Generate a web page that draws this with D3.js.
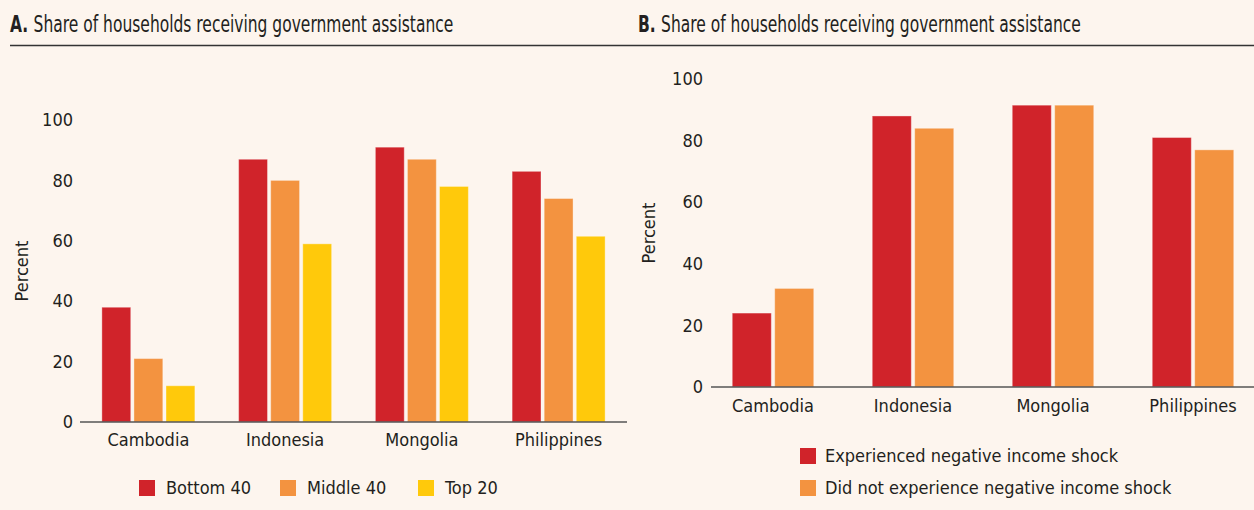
<!DOCTYPE html>
<html>
<head>
<meta charset="utf-8">
<script src="https://cdn.jsdelivr.net/npm/d3@7/dist/d3.min.js"></script>
<style>
  html, body { margin: 0; padding: 0; background: #fdf5ee; }
  svg { display: block; }
  text { font-family: "Liberation Sans Narrow", "DejaVu Sans Condensed", "Roboto", sans-serif; fill: #231f20; }
</style>
</head>
<body>
<svg id="chart" width="1254" height="510"></svg>
<script>
// Countries shown in both panels
const countries = ["Cambodia", "Indonesia", "Mongolia", "Philippines"];

// Panel A: share by income group (percent)
const groupsA = ["Bottom 40", "Middle 40", "Top 20"];
const bottom40 = [38, 87, 91, 83];
const middle40 = [21, 80, 87, 74];
const top20 = [12, 59, 78, 61.5];

// Panel B: share by income-shock status (percent)
const groupsB = ["Experienced negative income shock", "Did not experience negative income shock"];
const shock = [24, 88, 91.5, 81];
const noShock = [32, 84, 91.5, 77];

const yTicks = [0, 20, 40, 60, 80, 100];

const colors = { red: "#d0232a", orange: "#f39340", yellow: "#ffc90b" };
const axisColor = "#555";
const labelSize = 18;

const svg = d3.select("#chart");
svg.append("rect").attr("width", 1254).attr("height", 510).attr("fill", "#fdf5ee");

// Panel titles (condensed headline face) and rule
function title(x, letter, rest) {
  const t = svg.append("g").attr("transform", `translate(${x},32) scale(0.75,1)`)
    .append("text").attr("font-size", 23);
  t.append("tspan").attr("font-weight", "bold").text(letter + " ");
  t.append("tspan").text(rest);
}
title(10, "A.", "Share of households receiving government assistance");
title(638, "B.", "Share of households receiving government assistance");
svg.append("line").attr("x1", 10).attr("x2", 1254).attr("y1", 45.5).attr("y2", 45.5)
  .attr("stroke", "#333").attr("stroke-width", 1.5);

function panel(cfg) {
  const x0 = d3.scaleBand().domain(countries).range(cfg.xRange).paddingInner(0).paddingOuter(0);
  const x1 = d3.scaleBand().domain(cfg.series.map(s => s.name)).range([0, cfg.groupWidth]).paddingInner(cfg.barPad);
  const y = d3.scaleLinear().domain([0, 100]).range(cfg.yRange);
  const off = (x0.bandwidth() - cfg.groupWidth) / 2;

  const g = svg.append("g");

  // bars
  cfg.series.forEach(s => {
    g.selectAll(null).data(countries).join("rect")
      .attr("x", (c) => x0(c) + off + x1(s.name))
      .attr("y", (c, i) => y(s.values[i]))
      .attr("width", x1.bandwidth())
      .attr("height", (c, i) => y(0) - y(s.values[i]))
      .attr("fill", s.color)
      .attr("stroke", "rgba(255,255,255,0.35)")
      .attr("stroke-width", 1);
  });

  // y axis labels
  const ya = g.append("g").attr("transform", `translate(${cfg.axisX},0)`)
    .call(d3.axisLeft(y).tickValues(yTicks).tickSize(0).tickPadding(cfg.tickPad));
  ya.select(".domain").remove();
  ya.selectAll("text").attr("font-size", labelSize).attr("font-family", null).attr("fill", "#231f20");

  // baseline
  g.append("line").attr("x1", cfg.axisX).attr("x2", cfg.axisEnd)
    .attr("y1", y(0)).attr("y2", y(0)).attr("stroke", axisColor).attr("stroke-width", 1.5);

  // category axis
  const xa = g.append("g").attr("transform", `translate(0,${y(0)})`)
    .call(d3.axisBottom(x0).tickSize(0).tickPadding(cfg.catPad));
  xa.select(".domain").remove();
  xa.selectAll("text").attr("font-size", labelSize).attr("font-family", null).attr("fill", "#231f20");

  // y title
  g.append("text")
    .attr("transform", `translate(${cfg.titleX},${(y(0) + y(100)) / 2}) rotate(-90)`)
    .attr("text-anchor", "middle").attr("dy", "0.35em").attr("font-size", 18)
    .text("Percent");
}

panel({
  xRange: [80, 627], groupWidth: 93, barPad: 0.1,
  yRange: [422, 120], axisX: 80, axisEnd: 627, tickPad: 7, catPad: 11, titleX: 22,
  series: [
    { name: groupsA[0], values: bottom40, color: colors.red },
    { name: groupsA[1], values: middle40, color: colors.orange },
    { name: groupsA[2], values: top20, color: colors.yellow }
  ]
});

panel({
  xRange: [703, 1263], groupWidth: 81.5, barPad: 0.08,
  yRange: [387, 79], axisX: 711, axisEnd: 1254, tickPad: 8, catPad: 12, titleX: 649,
  series: [
    { name: groupsB[0], values: shock, color: colors.red },
    { name: groupsB[1], values: noShock, color: colors.orange }
  ]
});

// Legend A (horizontal)
const legA = [
  { label: groupsA[0], color: colors.red, x: 139 },
  { label: groupsA[1], color: colors.orange, x: 280 },
  { label: groupsA[2], color: colors.yellow, x: 418 }
];
legA.forEach(d => {
  svg.append("rect").attr("x", d.x).attr("y", 480).attr("width", 16).attr("height", 16).attr("fill", d.color);
  svg.append("text").attr("x", d.x + 27).attr("y", 488).attr("dy", "0.35em").attr("font-size", labelSize).text(d.label);
});

// Legend B (stacked)
const legB = [
  { label: groupsB[0], color: colors.red, y: 448 },
  { label: groupsB[1], color: colors.orange, y: 480 }
];
legB.forEach(d => {
  svg.append("rect").attr("x", 800).attr("y", d.y).attr("width", 16).attr("height", 16).attr("fill", d.color);
  svg.append("text").attr("x", 825).attr("y", d.y + 8).attr("dy", "0.35em").attr("font-size", labelSize).text(d.label);
});
</script>
</body>
</html>
